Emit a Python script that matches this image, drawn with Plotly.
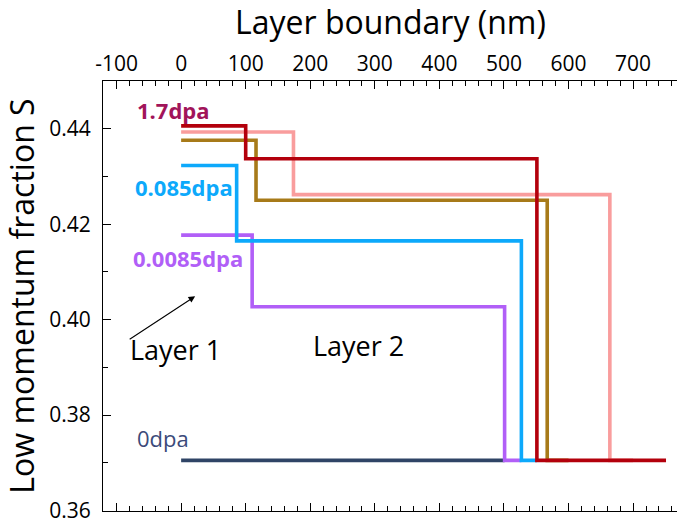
import plotly.graph_objects as go

# ---- data ----
series_names = ["0dpa", "0.0085dpa", "0.085dpa", "1.7dpa (c)", "1.7dpa (b)", "1.7dpa (a)"]
layer1_S = [0.3705, 0.4177, 0.4323, 0.4376, 0.4393, 0.4406]
layer2_S = [0.3705, 0.4027, 0.4165, 0.4250, 0.4262, 0.4337]
boundary1_nm = [250, 110, 86, 116, 174, 100]
boundary2_nm = [501, 501, 527, 567, 664, 551]
end_nm = [501, 527, 551, 600, 700, 751]
substrate_S = 0.3705
start_nm = 0

colors = ["#2F4466", "#B15FF7", "#0DA9FB", "#A77A19", "#F99D9D", "#B3000C"]

x_ticks = [-100, 0, 100, 200, 300, 400, 500, 600, 700]
x_ticktext = ["-100", "0", "100", "200", "300", "400", "500", "600", "700"]
y_ticks = [0.36, 0.38, 0.40, 0.42, 0.44]
y_ticktext = ["0.36", "0.38", "0.40", "0.42", "0.44"]

FONT = "Open Sans"

fig = go.Figure()
for name, l1, l2, b1, b2, e, c in zip(series_names, layer1_S, layer2_S,
                                      boundary1_nm, boundary2_nm, end_nm, colors):
    xs = [start_nm, b1, b2, e]
    ys = [l1, l2, substrate_S, substrate_S]
    fig.add_trace(go.Scatter(x=xs, y=ys, mode="lines", name=name,
                             line=dict(color=c, width=3.6, shape="hv"),
                             showlegend=False, hoverinfo="skip"))

# series labels
labels = [
    dict(text="<b>1.7dpa</b>", x=-71, y=0.4440, color="#A1145A"),
    dict(text="<b>0.085dpa</b>", x=-75, y=0.4277, color="#0DA9FB"),
    dict(text="<b>0.0085dpa</b>", x=-78, y=0.4129, color="#B15FF7"),
    dict(text="0dpa", x=-71, y=0.3753, color="#3B4A7A"),
]
for lb in labels:
    fig.add_annotation(x=lb["x"], y=lb["y"], xref="x", yref="y", text=lb["text"],
                       showarrow=False, xanchor="left", yanchor="middle",
                       font=dict(family=FONT, size=22, color=lb["color"]))

fig.add_annotation(x=-8, y=0.3938, xref="x", yref="y", text="Layer 1", showarrow=False,
                   xanchor="center", yanchor="middle",
                   font=dict(family=FONT, size=27, color="black"))
fig.add_annotation(x=275, y=0.3945, xref="x", yref="y", text="Layer 2", showarrow=False,
                   xanchor="center", yanchor="middle",
                   font=dict(family=FONT, size=27, color="black"))
fig.add_annotation(x=21.7, y=0.4049, ax=-82, ay=0.3957, xref="x", yref="y",
                   axref="x", ayref="y", text="", showarrow=True,
                   arrowhead=2, arrowsize=1.2, arrowwidth=1.1, arrowcolor="black",
                   standoff=0, startstandoff=0)

# top axis title (as an annotation so it can sit close to the page top)
fig.add_annotation(x=0.5, y=1.193, xref="paper", yref="paper", text="Layer boundary (nm)",
                   showarrow=False, xanchor="center", yanchor="top",
                   font=dict(family=FONT, size=32, color="black"))

fig.update_layout(
    width=677, height=522,
    margin=dict(l=103, r=0, t=81, b=11),
    paper_bgcolor="white", plot_bgcolor="white",
    font=dict(family=FONT, color="black"),
    xaxis=dict(
        range=[-121, 768], side="top", automargin=False,
        tickvals=x_ticks, ticktext=x_ticktext,
        ticks="inside", ticklen=8, tickwidth=1.2, tickcolor="black",
        minor=dict(dtick=20, tick0=0, ticks="inside", ticklen=4.5, tickwidth=1, tickcolor="black"),
        showline=True, linecolor="black", linewidth=1.2, mirror="ticks",
        showgrid=False, zeroline=False,
        tickfont=dict(family=FONT, size=21, color="black"),
        ticklabelstandoff=1, ticklabeloverflow="allow",
    ),
    yaxis=dict(
        range=[0.3599, 0.45], automargin=False,
        tickvals=y_ticks, ticktext=y_ticktext,
        ticks="inside", ticklen=8, tickwidth=1.2, tickcolor="black",
        minor=dict(dtick=0.01, tick0=0.36, ticks="inside", ticklen=5, tickwidth=1, tickcolor="black"),
        showline=True, linecolor="black", linewidth=1.2, mirror=False,
        showgrid=False, zeroline=False,
        tickfont=dict(family=FONT, size=21, color="black"),
        ticklabelstandoff=7, ticklabeloverflow="allow",
        title=dict(text="Low momentum fraction S", font=dict(family=FONT, size=32, color="black"),
                   standoff=12),
    ),
    yaxis2=dict(
        range=[0.3599, 0.45], overlaying="y", side="right", anchor="x", automargin=False,
        tickvals=y_ticks, ticks="inside", ticklen=5, tickwidth=1.2, tickcolor="black",
        showticklabels=False, showline=False, showgrid=False, zeroline=False,
    ),
)

fig.write_html("out.html", config={"displayModeBar": False},
               post_script="document.body.style.margin='0';")
